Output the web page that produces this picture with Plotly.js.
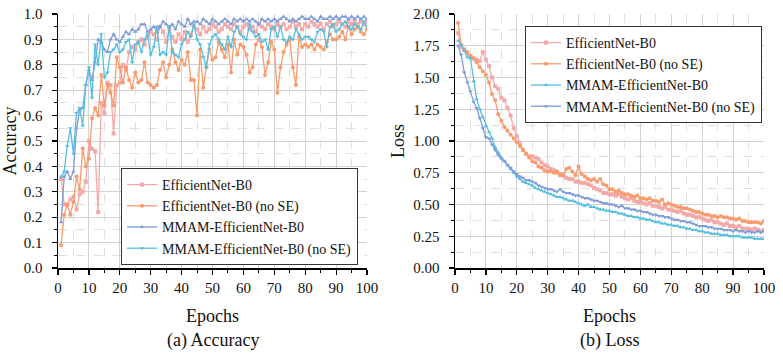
<!DOCTYPE html>
<html>
<head>
<meta charset="utf-8">
<script src="https://cdn.plot.ly/plotly-3.0.1.min.js"></script>
<style>
  html, body { margin: 0; padding: 0; background: #ffffff; }
  #chart { width: 783px; height: 358px; }
</style>
</head>
<body>
<div id="chart"></div>
<script>
// Training epochs 1..100
const epochs = [];
for (let e = 1; e <= 100; e++) epochs.push(e);

const seriesNames = [
  'EfficientNet-B0',
  'EfficientNet-B0 (no SE)',
  'MMAM-EfficientNet-B0',
  'MMAM-EfficientNet-B0 (no SE)'
];

// ---- Accuracy per epoch ----
const accEffB0 = [
  0.35, 0.25, 0.25, 0.27, 0.28, 0.23, 0.29, 0.30, 0.34, 0.50,
  0.47, 0.46, 0.22, 0.65, 0.61, 0.73, 0.72, 0.53, 0.72, 0.73,
  0.80, 0.78, 0.85, 0.87, 0.86, 0.89, 0.90, 0.88, 0.91, 0.93,
  0.92, 0.90, 0.95, 0.93, 0.89, 0.94, 0.91, 0.89, 0.92, 0.90,
  0.93, 0.89, 0.92, 0.95, 0.94, 0.92, 0.95, 0.93, 0.94, 0.96,
  0.95, 0.93, 0.94, 0.96, 0.95, 0.94, 0.96, 0.95, 0.93, 0.95,
  0.96, 0.94, 0.95, 0.93, 0.96, 0.95, 0.94, 0.96, 0.95, 0.94,
  0.96, 0.95, 0.96, 0.94, 0.95, 0.97, 0.95, 0.96, 0.94, 0.96,
  0.95, 0.97, 0.96, 0.95, 0.96, 0.94, 0.96, 0.97, 0.95, 0.96,
  0.97, 0.96, 0.95, 0.97, 0.96, 0.97, 0.96, 0.97, 0.96, 0.97
];
const accEffB0NoSE = [
  0.09, 0.21, 0.25, 0.21, 0.26, 0.36, 0.31, 0.47, 0.40, 0.43,
  0.59, 0.63, 0.60, 0.76, 0.64, 0.72, 0.69, 0.64, 0.83, 0.79,
  0.73, 0.79, 0.74, 0.71, 0.77, 0.73, 0.74, 0.81, 0.73, 0.72,
  0.71, 0.72, 0.78, 0.81, 0.75, 0.80, 0.86, 0.81, 0.78, 0.82,
  0.80, 0.85, 0.74, 0.74, 0.60, 0.86, 0.71, 0.79, 0.86, 0.82,
  0.83, 0.89, 0.86, 0.83, 0.88, 0.77, 0.90, 0.84, 0.88, 0.87,
  0.84, 0.77, 0.79, 0.88, 0.90, 0.87, 0.76, 0.81, 0.89, 0.86,
  0.69, 0.79, 0.85, 0.88, 0.90, 0.79, 0.72, 0.91, 0.87, 0.88,
  0.87, 0.88, 0.86, 0.88, 0.87, 0.86, 0.89, 0.92, 0.90, 0.90,
  0.91, 0.93, 0.90, 0.95, 0.92, 0.94, 0.95, 0.93, 0.92, 0.94
];
const accMMAM = [
  0.18, 0.36, 0.38, 0.35, 0.38, 0.55, 0.62, 0.63, 0.72, 0.78,
  0.74, 0.81, 0.90, 0.89, 0.86, 0.85, 0.90, 0.92, 0.90, 0.89,
  0.91, 0.93, 0.92, 0.94, 0.93, 0.94, 0.96, 0.96, 0.93, 0.94,
  0.95, 0.93, 0.95, 0.97, 0.96, 0.95, 0.96, 0.94, 0.97, 0.96,
  0.95, 0.98, 0.96, 0.97, 0.97, 0.96, 0.98, 0.97, 0.96, 0.98,
  0.97, 0.96, 0.97, 0.98, 0.97, 0.96, 0.98, 0.97, 0.98, 0.97,
  0.98, 0.97, 0.98, 0.97, 0.96, 0.98, 0.97, 0.98, 0.97, 0.98,
  0.97, 0.98, 0.99, 0.98, 0.97, 0.98, 0.97, 0.98, 0.99, 0.98,
  0.98, 0.99, 0.98, 0.97, 0.99, 0.98, 0.98, 0.99, 0.98, 0.99,
  0.98, 0.99, 0.99, 0.98, 0.99, 0.98, 0.99, 0.98, 0.99, 0.98
];
const accMMAMNoSE = [
  0.36, 0.38, 0.48, 0.55, 0.45, 0.61, 0.63, 0.56, 0.72, 0.79,
  0.67, 0.88, 0.80, 0.92, 0.75, 0.77, 0.85, 0.86, 0.88, 0.85,
  0.86, 0.89, 0.90, 0.81, 0.88, 0.89, 0.85, 0.90, 0.92, 0.84,
  0.87, 0.95, 0.84, 0.85, 0.84, 0.95, 0.85, 0.84, 0.83, 0.88,
  0.90, 0.93, 0.91, 0.96, 0.90, 0.88, 0.83, 0.79, 0.88, 0.91,
  0.92, 0.90, 0.88, 0.86, 0.91, 0.87, 0.93, 0.95, 0.92, 0.91,
  0.90, 0.96, 0.93, 0.91, 0.92, 0.89, 0.90, 0.86, 0.94, 0.95,
  0.91, 0.95, 0.90, 0.89, 0.91, 0.90, 0.94, 0.92, 0.90, 0.91,
  0.91, 0.90, 0.89, 0.93, 0.94, 0.93, 0.87, 0.95, 0.96, 0.93,
  0.94, 0.96, 0.97, 0.95, 0.94, 0.96, 0.95, 0.94, 0.97, 0.95
];

// ---- Loss per epoch ----
const lossEffB0 = [
  1.85, 1.74, 1.72, 1.69, 1.67, 1.65, 1.64, 1.63, 1.70, 1.64,
  1.59, 1.50, 1.43, 1.41, 1.34, 1.32, 1.26, 1.20, 1.10, 1.04,
  0.98, 0.93, 0.90, 0.88, 0.88, 0.87, 0.86, 0.83, 0.81, 0.80,
  0.78, 0.77, 0.75, 0.73, 0.73, 0.71, 0.70, 0.70, 0.68, 0.68,
  0.67, 0.67, 0.66, 0.65, 0.63, 0.62, 0.61, 0.59, 0.59, 0.58,
  0.58, 0.57, 0.58, 0.56, 0.55, 0.54, 0.55, 0.53, 0.52, 0.52,
  0.51, 0.50, 0.51, 0.49, 0.49, 0.48, 0.47, 0.48, 0.46, 0.46,
  0.45, 0.44, 0.45, 0.43, 0.42, 0.42, 0.41, 0.40, 0.40, 0.39,
  0.38, 0.37, 0.38, 0.36, 0.36, 0.35, 0.34, 0.35, 0.33, 0.33,
  0.32, 0.33, 0.31, 0.31, 0.31, 0.30, 0.31, 0.30, 0.29, 0.30
];
const lossEffB0NoSE = [
  1.93, 1.76, 1.72, 1.70, 1.67, 1.65, 1.62, 1.58, 1.55, 1.52,
  1.46, 1.37, 1.32, 1.21, 1.16, 1.11, 1.08, 1.05, 1.02, 0.99,
  0.96, 0.93, 0.90, 0.87, 0.84, 0.83, 0.80, 0.79, 0.77, 0.76,
  0.76, 0.75, 0.76, 0.74, 0.73, 0.78, 0.79, 0.76, 0.73, 0.80,
  0.74, 0.72, 0.70, 0.69, 0.70, 0.68, 0.70, 0.66, 0.65, 0.62,
  0.62, 0.60, 0.61, 0.59, 0.58, 0.58, 0.57, 0.56, 0.57, 0.55,
  0.55, 0.54, 0.55, 0.53, 0.53, 0.52, 0.54, 0.50, 0.51, 0.50,
  0.49, 0.48, 0.48, 0.47, 0.47, 0.46, 0.45, 0.44, 0.44, 0.43,
  0.42, 0.42, 0.41, 0.41, 0.40, 0.41, 0.40, 0.40, 0.39, 0.39,
  0.38, 0.39, 0.37, 0.37, 0.36, 0.36, 0.36, 0.36, 0.35, 0.37
];
const lossMMAM = [
  1.79, 1.76, 1.71, 1.66, 1.65, 1.47, 1.33, 1.25, 1.19, 1.12,
  1.07, 1.02, 0.95, 0.91, 0.87, 0.84, 0.81, 0.78, 0.75, 0.72,
  0.70, 0.68, 0.67, 0.66, 0.65, 0.63, 0.62, 0.61, 0.60, 0.59,
  0.58, 0.57, 0.56, 0.56, 0.55, 0.54, 0.53, 0.53, 0.52, 0.51,
  0.50, 0.49, 0.50, 0.48, 0.48, 0.47, 0.46, 0.46, 0.45, 0.45,
  0.44, 0.44, 0.43, 0.43, 0.42, 0.41, 0.41, 0.40, 0.40, 0.39,
  0.39, 0.38, 0.38, 0.37, 0.36, 0.36, 0.35, 0.35, 0.34, 0.34,
  0.33, 0.33, 0.32, 0.32, 0.31, 0.31, 0.30, 0.30, 0.29, 0.29,
  0.28, 0.28, 0.27, 0.27, 0.27, 0.26, 0.26, 0.26, 0.25, 0.25,
  0.25, 0.25, 0.24, 0.24, 0.24, 0.24, 0.23, 0.23, 0.23, 0.23
];
const lossMMAMNoSE = [
  1.75, 1.68, 1.54, 1.46, 1.39, 1.31, 1.26, 1.18, 1.10, 1.03,
  1.02, 0.97, 0.93, 0.89, 0.86, 0.84, 0.81, 0.79, 0.76, 0.74,
  0.72, 0.71, 0.69, 0.69, 0.68, 0.67, 0.65, 0.64, 0.63, 0.62,
  0.62, 0.61, 0.60, 0.62, 0.60, 0.59, 0.59, 0.58, 0.57, 0.57,
  0.56, 0.55, 0.55, 0.54, 0.53, 0.53, 0.52, 0.51, 0.51, 0.50,
  0.50, 0.49, 0.48, 0.49, 0.47, 0.47, 0.46, 0.46, 0.45, 0.45,
  0.44, 0.44, 0.43, 0.42, 0.42, 0.41, 0.41, 0.40, 0.40, 0.39,
  0.38, 0.38, 0.37, 0.37, 0.36, 0.36, 0.35, 0.34, 0.33, 0.33,
  0.33, 0.32, 0.32, 0.31, 0.31, 0.31, 0.30, 0.30, 0.30, 0.29,
  0.30, 0.29, 0.29, 0.28, 0.29, 0.28, 0.28, 0.29, 0.28, 0.29
];

const PINK = '#F4A9A8';
const ORANGE = '#F99B6D';
const BLUE = '#7F9CD9';
const CYAN = '#56BEDF';
const FONT = '"Liberation Serif", "Times New Roman", serif';

function series(x, y, name, color, symbol, xa, ya, legendId) {
  return {
    x: x, y: y, name: name, type: 'scatter', mode: 'lines+markers',
    xaxis: xa, yaxis: ya, showlegend: true, legend: legendId,
    line: { color: color, width: 1.3 },
    marker: { color: color, symbol: symbol, size: 4 }
  };
}

const traces = [
  series(epochs, accEffB0, seriesNames[0], PINK, 'square', 'x', 'y', 'legend'),
  series(epochs, accEffB0NoSE, seriesNames[1], ORANGE, 'circle', 'x', 'y', 'legend'),
  series(epochs, accMMAM, seriesNames[2], BLUE, 'triangle-up', 'x', 'y', 'legend'),
  series(epochs, accMMAMNoSE, seriesNames[3], CYAN, 'triangle-down', 'x', 'y', 'legend'),
  series(epochs, lossEffB0, seriesNames[0], PINK, 'square', 'x2', 'y2', 'legend2'),
  series(epochs, lossEffB0NoSE, seriesNames[1], ORANGE, 'circle', 'x2', 'y2', 'legend2'),
  series(epochs, lossMMAM, seriesNames[2], CYAN, 'triangle-up', 'x2', 'y2', 'legend2'),
  series(epochs, lossMMAMNoSE, seriesNames[3], BLUE, 'triangle-down', 'x2', 'y2', 'legend2')
];

const xDomA = [58 / 783, 367 / 783];
const xDomB = [455 / 783, 764 / 783];
const yDom = [1 - 268 / 358, 1 - 14 / 358];

const tickFont = { family: FONT, size: 15, color: '#111' };
const titleFont = { family: FONT, size: 18, color: '#111' };

function mainX(domain, anchor) {
  return {
    domain: domain, anchor: anchor, range: [0, 100], dtick: 10, tick0: 0,
    showline: true, linecolor: '#000', linewidth: 1.5,
    ticks: 'outside', ticklen: 5, tickwidth: 1.2, tickcolor: '#000',
    tickfont: tickFont, zeroline: false,
    showgrid: true, gridcolor: '#d2d2d2', gridwidth: 1,
    minor: { dtick: 5, ticks: 'outside', ticklen: 3, tickwidth: 1, tickcolor: '#000',
             showgrid: true, gridcolor: '#e0e0e0', griddash: 'dash', gridwidth: 1 },
    title: { text: 'Epochs', font: titleFont, standoff: 15 }
  };
}
function mainY(domain, anchor, range, dtick, minorDtick, fmt, title) {
  return {
    domain: domain, anchor: anchor, range: range, dtick: dtick, tick0: 0,
    tickformat: fmt, ticklabelstandoff: 6,
    showline: true, linecolor: '#000', linewidth: 1.5,
    ticks: 'outside', ticklen: 5, tickwidth: 1.2, tickcolor: '#000',
    tickfont: tickFont, zeroline: false,
    showgrid: true, gridcolor: '#d2d2d2', gridwidth: 1,
    minor: { dtick: minorDtick, ticks: 'outside', ticklen: 3, tickwidth: 1, tickcolor: '#000',
             showgrid: true, gridcolor: '#e0e0e0', griddash: 'dash', gridwidth: 1 },
    title: { text: title, font: titleFont, standoff: 4 }
  };
}
// Frame edges on the top and right carry inward ticks
function frameX(over, anchor) {
  return {
    overlaying: over, anchor: anchor, side: 'top', range: [0, 100], dtick: 10, tick0: 0,
    showline: true, linecolor: '#000', linewidth: 1.5,
    ticks: 'inside', ticklen: 5, tickwidth: 1.2, tickcolor: '#000',
    minor: { dtick: 5, ticks: 'inside', ticklen: 3, tickwidth: 1, tickcolor: '#000' },
    showticklabels: false, showgrid: false, zeroline: false
  };
}
function frameY(over, anchor, range, dtick, minorDtick) {
  return {
    overlaying: over, anchor: anchor, side: 'right', range: range, dtick: dtick, tick0: 0,
    showline: true, linecolor: '#000', linewidth: 1.5,
    ticks: 'inside', ticklen: 5, tickwidth: 1.2, tickcolor: '#000',
    minor: { dtick: minorDtick, ticks: 'inside', ticklen: 3, tickwidth: 1, tickcolor: '#000' },
    showticklabels: false, showgrid: false, zeroline: false
  };
}

const legendStyle = {
  bgcolor: '#ffffff', bordercolor: '#333', borderwidth: 1,
  font: { family: FONT, size: 14, color: '#111' },
  xanchor: 'left', tracegroupgap: 0, itemwidth: 30
};

const layout = {
  width: 783, height: 358,
  margin: { l: 0, r: 0, t: 0, b: 0 },
  paper_bgcolor: '#ffffff', plot_bgcolor: '#ffffff',
  font: { family: FONT, color: '#111' },
  xaxis: mainX(xDomA, 'y'),
  yaxis: mainY(yDom, 'x', [0, 1], 0.1, 0.05, '.1f', 'Accuracy'),
  xaxis2: mainX(xDomB, 'y2'),
  yaxis2: mainY(yDom, 'x2', [0, 2], 0.25, 0.125, '.2f', 'Loss'),
  xaxis3: frameX('x', 'y'),
  yaxis3: frameY('y', 'x', [0, 1], 0.1, 0.05),
  xaxis4: frameX('x2', 'y2'),
  yaxis4: frameY('y2', 'x2', [0, 2], 0.25, 0.125),
  legend: Object.assign({ x: 121 / 783, y: 1 - 265 / 358, yanchor: 'bottom' }, legendStyle),
  legend2: Object.assign({ x: 525 / 783, y: 1 - 26 / 358, yanchor: 'top' }, legendStyle),
  annotations: [
    { text: '(a) Accuracy', xref: 'paper', yref: 'paper', x: (xDomA[0] + xDomA[1]) / 2, y: 1 - 340 / 358,
      xanchor: 'center', yanchor: 'middle', showarrow: false, font: titleFont },
    { text: '(b) Loss', xref: 'paper', yref: 'paper', x: (xDomB[0] + xDomB[1]) / 2, y: 1 - 340 / 358,
      xanchor: 'center', yanchor: 'middle', showarrow: false, font: titleFont }
  ]
};

Plotly.newPlot('chart', traces, layout, { staticPlot: true, displayModeBar: false });
</script>
</body>
</html>
